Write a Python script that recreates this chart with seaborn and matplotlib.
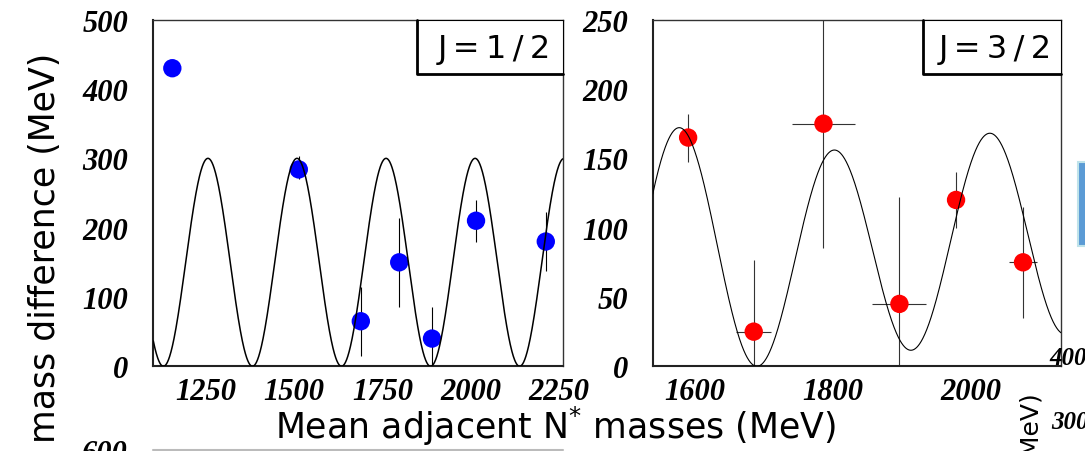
import numpy as np
import matplotlib
matplotlib.use('Agg')
import matplotlib.pyplot as plt
from matplotlib.patches import Rectangle
from matplotlib.lines import Line2D
from matplotlib.ticker import MultipleLocator
import seaborn as sns

# J=1/2 : mass difference vs mean adjacent N* mass (MeV)
j12_mass = [1154, 1513, 1689, 1798, 1891, 2016, 2214]
j12_diff = [430, 284, 65, 150, 40, 210, 180]
j12_err_lo = [0, 14, 50, 64, 40, 30, 42]
j12_err_hi = [0, 19, 50, 64, 45, 30, 42]
j12_xerr = [0, 0, 0, 12, 0, 0, 0]

# J=3/2
j32_mass = [1590, 1685, 1786, 1896, 1978, 2075]
j32_diff = [165, 25, 175, 45, 120, 75]
j32_err_lo = [18, 25, 90, 45, 20, 40]
j32_err_hi = [17, 52, 90, 77, 20, 40]
j32_xerr = [0, 25, 45, 39, 0, 20]

# fitted periodic curves (parameters)
j12_amp, j12_x0, j12_period = 300, 1128.7, 252.75
j32_x0, j32_period = 1802, 223
j32_top, j32_top_slope, j32_top_curv = 156, -0.00897, 2.815e-4
j32_low_x, j32_low_slope = 1690.5, 0.052


def j12_curve(x):
    return j12_amp / 2 * (1 - np.cos(2 * np.pi * (x - j12_x0) / j12_period))


def j32_curve(x):
    upper = j32_top + j32_top_slope * (x - j32_x0) + j32_top_curv * (x - j32_x0) ** 2
    lower = j32_low_slope * (x - j32_low_x)
    return lower + (upper - lower) * (1 + np.cos(2 * np.pi * (x - j32_x0) / j32_period)) / 2


sns.set_theme(style='white')
plt.rcParams['font.family'] = ['Liberation Serif', 'DejaVu Serif']
plt.rcParams['font.weight'] = 'bold'
plt.rcParams['font.style'] = 'italic'
plt.rcParams['mathtext.default'] = 'regular'
plt.rcParams['text.color'] = 'black'
plt.rcParams['xtick.color'] = 'black'
plt.rcParams['ytick.color'] = 'black'

W, H = 1085, 452
fig = plt.figure(figsize=(W / 100, H / 100), dpi=100)
fig.patch.set_facecolor('white')

sans = dict(fontfamily='DejaVu Sans', fontweight='normal', fontstyle='normal', color='black')


def px_axes(x0, x1, y0, y1):
    return fig.add_axes([x0 / W, 1 - y1 / H, (x1 - x0) / W, (y1 - y0) / H])


def style_axes(ax, xlim, ylim, xmaj, xmin, ymaj, ymin):
    ax.set_xlim(*xlim)
    ax.set_ylim(*ylim)
    ax.xaxis.set_major_locator(MultipleLocator(xmaj))
    ax.xaxis.set_minor_locator(MultipleLocator(xmin))
    ax.yaxis.set_major_locator(MultipleLocator(ymaj))
    ax.yaxis.set_minor_locator(MultipleLocator(ymin))
    ax.tick_params(which='both', direction='in', top=False, right=False,
                   colors='black', labelcolor='black', labelsize=22, width=1)
    ax.tick_params(which='major', length=13)
    ax.tick_params(which='minor', length=6.5)
    ax.tick_params(axis='x', which='major', pad=8)
    ax.tick_params(axis='y', which='major', pad=18)
    ax.set_facecolor('white')
    ax.grid(False)
    for side in ['left', 'bottom']:
        ax.spines[side].set_linewidth(1.5)
        ax.spines[side].set_color('#222222')
    for side in ['top', 'right']:
        ax.spines[side].set_linewidth(1.0)
        ax.spines[side].set_color('#333333')
    ax.set_xlabel('')
    ax.set_ylabel('')


def j_box(ax, x0, label, tx):
    ax.add_patch(Rectangle((x0, 0.8433), 1 - x0, 1 - 0.8433, transform=ax.transAxes,
                           facecolor='white', edgecolor='black', lw=0.8, zorder=6,
                           clip_on=False))
    ax.add_line(Line2D([x0, x0, 1], [1, 0.8433, 0.8433], transform=ax.transAxes,
                       color='black', lw=2.0, zorder=7, clip_on=False))
    ax.text(tx, 0.9155, label, transform=ax.transAxes, ha='center', va='center',
            fontsize=23, zorder=8, **sans)


# left panel: J=1/2
ax1 = px_axes(153.3, 562.7, 20.7, 367.3)
xs = np.linspace(1100, 2262, 1500)
ax1.errorbar(j12_mass, j12_diff, yerr=[j12_err_lo, j12_err_hi], xerr=j12_xerr,
             fmt='none', ecolor='black', elinewidth=0.8, capsize=0, zorder=2)
sns.scatterplot(x=j12_mass, y=j12_diff, ax=ax1, color='#0000ff', s=175,
                edgecolor='none', zorder=3, legend=False)
sns.lineplot(x=xs, y=j12_curve(xs), ax=ax1, color='black', lw=1.1,
             estimator=None, sort=False, zorder=4)
style_axes(ax1, (1100, 2262), (0, 500), 250, 50, 100, 20)
j_box(ax1, 0.6434, 'J\u2009=\u20091\u2009/\u20092', 0.832)

# right panel: J=3/2
ax2 = px_axes(652.7, 1061, 20.7, 367.3)
xs2 = np.linspace(1538.7, 2130, 1500)
ax2.errorbar(j32_mass, j32_diff, yerr=[j32_err_lo, j32_err_hi], xerr=j32_xerr,
             fmt='none', ecolor='#333333', elinewidth=0.8, capsize=0, zorder=2)
sns.scatterplot(x=j32_mass, y=j32_diff, ax=ax2, color='#ff0000', s=175,
                edgecolor='none', zorder=3, legend=False)
sns.lineplot(x=xs2, y=j32_curve(xs2), ax=ax2, color='black', lw=0.8,
             estimator=None, sort=False, zorder=4)
style_axes(ax2, (1538.7, 2130), (0, 250), 200, 50, 50, 10)
j_box(ax2, 0.6613, 'J\u2009=\u20093\u2009/\u20092', 0.8384)

# shared axis titles
fig.text(555 / W, 1 - 439 / H, 'Mean adjacent N$^{*}$ masses (MeV)', ha='center',
         va='baseline', fontsize=25, **sans)
fig.text(55 / W, 1 - 248 / H, 'mass difference (MeV)', rotation=90,
         rotation_mode='anchor', ha='center', va='baseline', fontsize=25, **sans)

# pieces of neighbouring panels cut off by the screenshot
fig.text(127.7 / W, 1 - 462 / H, '600', ha='right', va='baseline', fontsize=22)
fig.add_artist(Line2D([153 / W, 563 / W], [1 - 450.5 / H] * 2, color='#bbbbbb', lw=1.5))
fig.text(1049 / W, 1 - 365 / H, '400', ha='left', va='baseline', fontsize=18)
fig.text(1051 / W, 1 - 429 / H, '300', ha='left', va='baseline', fontsize=18)
fig.text(1038 / W, 1 - 393 / H, 'mass difference (MeV)', rotation=90,
         rotation_mode='anchor', ha='right', va='baseline', fontsize=18, **sans)
fig.add_artist(Rectangle((1078 / W, 1 - 247 / H), 10 / W, 84 / H, transform=fig.transFigure,
                         facecolor='#5b9bd5', edgecolor='#bfe3ea', lw=1.5))

fig.savefig('out.png', dpi=100, facecolor='white')
